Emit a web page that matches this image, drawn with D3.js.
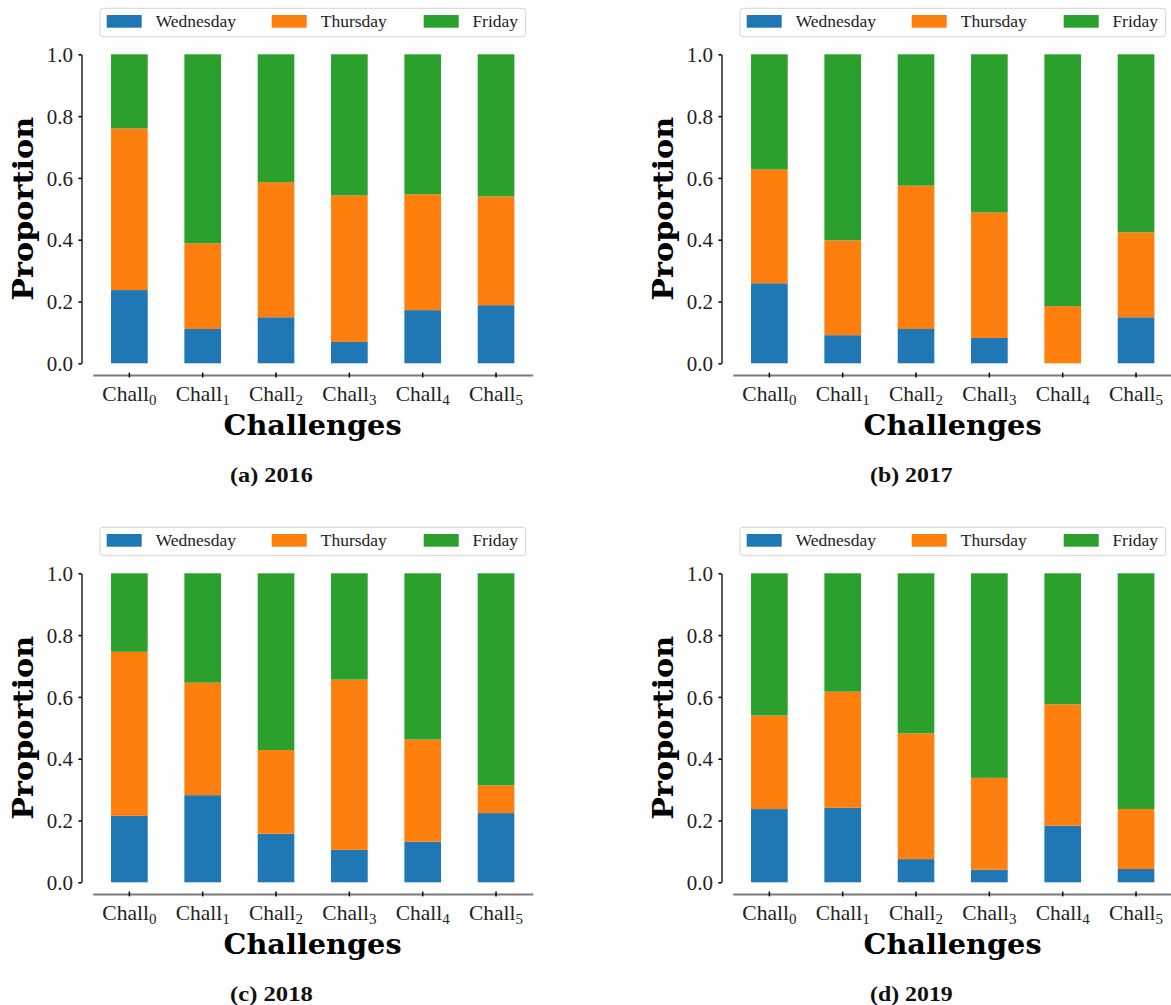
<!DOCTYPE html>
<html>
<head>
<meta charset="utf-8">
<script src="https://cdn.jsdelivr.net/npm/d3@7"></script>
<style>
  html, body { margin: 0; padding: 0; background: #ffffff; }
  svg { display: block; }
</style>
</head>
<body>
<svg id="fig" width="1171" height="1005"></svg>
<script>
// Challenge indices (shown as Chall with a subscript)
const challenges = ["0", "1", "2", "3", "4", "5"];
const days = ["Wednesday", "Thursday", "Friday"];
const dayColors = ["#1f77b4", "#ff7f0e", "#2ca02c"];
const yTicks = [0.0, 0.2, 0.4, 0.6, 0.8, 1.0];
const captions = ["(a) 2016", "(b) 2017", "(c) 2018", "(d) 2019"];

// Share of submissions per weekday, per challenge
const wed2016 = [0.237, 0.111, 0.149, 0.069, 0.172, 0.188];
const thu2016 = [0.523, 0.277, 0.437, 0.474, 0.375, 0.352];
const fri2016 = [0.240, 0.612, 0.414, 0.457, 0.453, 0.460];

const wed2017 = [0.259, 0.091, 0.111, 0.082, 0.000, 0.149];
const thu2017 = [0.368, 0.307, 0.464, 0.406, 0.185, 0.275];
const fri2017 = [0.373, 0.602, 0.425, 0.512, 0.815, 0.576];

const wed2018 = [0.215, 0.282, 0.157, 0.105, 0.131, 0.224];
const thu2018 = [0.531, 0.364, 0.271, 0.551, 0.331, 0.090];
const fri2018 = [0.254, 0.354, 0.572, 0.344, 0.538, 0.686];

const wed2019 = [0.237, 0.241, 0.075, 0.041, 0.183, 0.043];
const thu2019 = [0.303, 0.376, 0.407, 0.297, 0.393, 0.194];
const fri2019 = [0.460, 0.383, 0.518, 0.662, 0.424, 0.763];

const yearSeries = [
  [wed2016, thu2016, fri2016],
  [wed2017, thu2017, fri2017],
  [wed2018, thu2018, fri2018],
  [wed2019, thu2019, fri2019]
];

// ---- layout ----
const panelOffsets = [[0, 0], [640, 0], [0, 519], [640, 519]];
const serif = "'Liberation Serif', 'Times New Roman', serif";
const boldSerif = "'DejaVu Serif', serif";

const svg = d3.select("#fig");

const x = d3.scaleBand()
  .domain(challenges)
  .range([92.7, 532.7])
  .paddingInner(0.5)
  .paddingOuter(0.25);

const y = d3.scaleLinear()
  .domain([0, 1])
  .range([363.3, 54.3]);

const color = d3.scaleOrdinal().domain(days).range(dayColors);

const stack = d3.stack().keys(days);

yearSeries.forEach((series, pi) => {
  const [dx, dy] = panelOffsets[pi];
  const g = svg.append("g").attr("transform", `translate(${dx},${dy})`);

  const rows = challenges.map((c, i) => {
    const r = { chall: c };
    days.forEach((d, k) => { r[d] = series[k][i]; });
    return r;
  });

  const layers = stack(rows);

  // stacked bars
  g.selectAll("g.layer")
    .data(layers)
    .join("g")
    .attr("class", "layer")
    .attr("fill", d => color(d.key))
    .selectAll("rect")
    .data(d => d)
    .join("rect")
    .attr("x", d => x(d.data.chall))
    .attr("width", x.bandwidth())
    .attr("y", d => y(d[1]))
    .attr("height", d => Math.max(0, y(d[0]) - y(d[1])));

  // y axis (spine bounded to the data range)
  const yAxisG = g.append("g")
    .attr("transform", "translate(81.5,0)")
    .call(d3.axisLeft(y)
      .tickValues(yTicks)
      .tickFormat(d3.format(".1f"))
      .tickSize(3)
      .tickSizeOuter(0)
      .tickPadding(8));
  yAxisG.select(".domain").attr("stroke", "#000").attr("stroke-width", 1.3);
  yAxisG.selectAll(".tick line").attr("stroke", "#000").attr("stroke-width", 1.6);
  yAxisG.selectAll(".tick text")
    .attr("font-family", serif)
    .attr("font-size", 21)
    .attr("fill", "#222")
    .attr("x", -8.5)
    .attr("dy", "0.34em");

  // x axis, offset below the bars
  const xAxisG = g.append("g")
    .attr("transform", "translate(0,375)")
    .call(d3.axisBottom(x).tickSize(5).tickSizeOuter(0));
  xAxisG.select(".domain").attr("stroke", "#7a7a7a").attr("stroke-width", 1.8);
  xAxisG.selectAll(".tick line")
    .attr("y1", -2.4).attr("y2", 2.4)
    .attr("stroke", "#000").attr("stroke-width", 1.5);
  xAxisG.selectAll(".tick text").each(function (d) {
    const t = d3.select(this);
    t.text(null)
      .attr("y", 26).attr("dy", 0)
      .attr("font-family", serif)
      .attr("font-size", 21.5)
      .attr("fill", "#222");
    t.append("tspan").text("Chall");
    t.append("tspan").attr("font-size", 15).attr("dy", 4).text(d);
  });

  // axis titles
  g.append("text")
    .attr("transform", "translate(32.7,208.8) rotate(-90)")
    .attr("text-anchor", "middle")
    .attr("font-family", boldSerif)
    .attr("font-weight", "bold")
    .attr("font-size", 27)
    .attr("textLength", 184)
    .attr("lengthAdjust", "spacingAndGlyphs")
    .attr("fill", "#000")
    .text("Proportion");

  g.append("text")
    .attr("x", 312.6).attr("y", 435)
    .attr("text-anchor", "middle")
    .attr("font-family", boldSerif)
    .attr("font-weight", "bold")
    .attr("font-size", 27)
    .attr("textLength", 178)
    .attr("lengthAdjust", "spacingAndGlyphs")
    .attr("fill", "#000")
    .text("Challenges");

  // sub-figure caption
  g.append("text")
    .attr("x", 271.4).attr("y", 481.7)
    .attr("text-anchor", "middle")
    .attr("font-family", serif)
    .attr("font-weight", "bold")
    .attr("font-size", 21)
    .attr("textLength", 82.7)
    .attr("lengthAdjust", "spacingAndGlyphs")
    .attr("fill", "#111")
    .text(captions[pi]);

  // legend
  const lg = g.append("g").attr("transform", "translate(100,8.3)");
  lg.append("rect")
    .attr("width", 425.7).attr("height", 28.4)
    .attr("rx", 3).attr("ry", 3)
    .attr("fill", "#fff")
    .attr("stroke", "#d4d4d4")
    .attr("stroke-width", 1);
  const patchX = [6.7, 171.7, 323.7];
  const labelX = [55.7, 220.7, 372.4];
  days.forEach((d, k) => {
    lg.append("rect")
      .attr("x", patchX[k]).attr("y", 6.7)
      .attr("width", 35).attr("height", 12.7)
      .attr("fill", color(d));
    lg.append("text")
      .attr("x", labelX[k]).attr("y", 19)
      .attr("font-family", serif)
      .attr("font-size", 17.5)
      .attr("fill", "#222")
      .text(d);
  });
});
</script>
</body>
</html>
